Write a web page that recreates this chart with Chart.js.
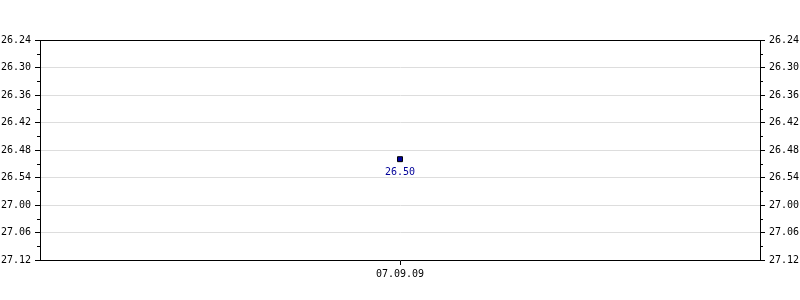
<!DOCTYPE html>
<html>
<head>
<meta charset="utf-8">
<script src="https://cdn.jsdelivr.net/npm/chart.js@4/dist/chart.umd.min.js"></script>
<style>
  html, body { margin: 0; padding: 0; background: #fff; }
  #box { width: 800px; height: 300px; }
</style>
</head>
<body>
<div id="box"><canvas id="timeChart"></canvas></div>
<script>
// --- data (times are min.sec) ---
const dates = ['07.09.09'];
const times = ['26.50'];
const axisMin = '26.24';
const axisMax = '27.12';
const stepSec = 6;

// "26.50" -> seconds
function toSec(t) {
    const [m, s] = t.split('.').map(Number);
    return m * 60 + s;
}
function fmt(v) {
    const m = Math.floor(v / 60);
    const s = Math.round(v - m * 60);
    return m + '.' + String(s).padStart(2, '0');
}

const FONT = { family: 'DejaVu Sans Mono', size: 10 };

// top frame line + small in-between ticks on both y axes
const frameAndMinor = {
    id: 'frameAndMinor',
    afterDraw(chart) {
        const ctx = chart.ctx;
        const area = chart.chartArea;
        const ys = chart.scales.y;
        ctx.save();
        ctx.strokeStyle = '#000';
        ctx.lineWidth = 1;
        ctx.beginPath();
        ctx.moveTo(area.left, Math.round(area.top) + 0.5);
        ctx.lineTo(area.right, Math.round(area.top) + 0.5);
        ctx.stroke();
        for (let v = ys.min + stepSec / 2; v < ys.max; v += stepSec) {
            const py = Math.round(ys.getPixelForValue(v)) + 0.5;
            ctx.beginPath();
            ctx.moveTo(area.left - 3, py);
            ctx.lineTo(area.left, py);
            ctx.moveTo(area.right, py);
            ctx.lineTo(area.right + 3, py);
            ctx.stroke();
        }
        ctx.restore();
    }
};

// value label under each point
const valueLabels = {
    id: 'valueLabels',
    afterDatasetsDraw(chart) {
        const ctx = chart.ctx;
        const meta = chart.getDatasetMeta(0);
        ctx.save();
        ctx.font = FONT.size + 'px ' + FONT.family;
        ctx.fillStyle = '#000099';
        ctx.textAlign = 'center';
        ctx.textBaseline = 'middle';
        meta.data.forEach((pt, i) => {
            ctx.fillText(times[i], pt.x, pt.y + 13);
        });
        ctx.restore();
    }
};

const yCommon = {
    type: 'linear',
    reverse: true,
    min: toSec(axisMin),
    max: toSec(axisMax),
    afterFit: s => { s.width = 40; },
    border: { display: true, color: '#000', width: 1 },
    ticks: {
        stepSize: stepSec,
        color: '#000',
        font: FONT,
        padding: 4,
        callback: v => fmt(v)
    }
};

new Chart(document.getElementById('timeChart'), {
    type: 'line',
    data: {
        labels: dates,
        datasets: [{
            data: times.map(toSec),
            showLine: false,
            pointStyle: 'rect',
            pointRadius: 3.5,
            pointHoverRadius: 3.5,
            pointBackgroundColor: '#0000a0',
            pointBorderColor: '#000',
            pointBorderWidth: 1
        }]
    },
    options: {
        responsive: true,
        maintainAspectRatio: false,
        animation: false,
        events: [],
        layout: { padding: { top: 40, left: 0, right: 0, bottom: 0 } },
        plugins: { legend: { display: false }, tooltip: { enabled: false } },
        scales: {
            x: {
                type: 'category',
                offset: true,
                afterFit: s => { s.height = 40; },
                border: { display: true, color: '#000', width: 1 },
                grid: { drawOnChartArea: false, tickLength: 5, tickColor: '#000' },
                ticks: { color: '#000', font: FONT, padding: 3, maxRotation: 0 }
            },
            y: Object.assign({}, yCommon, {
                position: 'left',
                grid: { color: '#dddddd', tickColor: '#000', tickLength: 5 }
            }),
            y2: Object.assign({}, yCommon, {
                position: 'right',
                grid: { drawOnChartArea: false, tickColor: '#000', tickLength: 5 }
            })
        }
    },
    plugins: [frameAndMinor, valueLabels]
});
</script>
</body>
</html>
